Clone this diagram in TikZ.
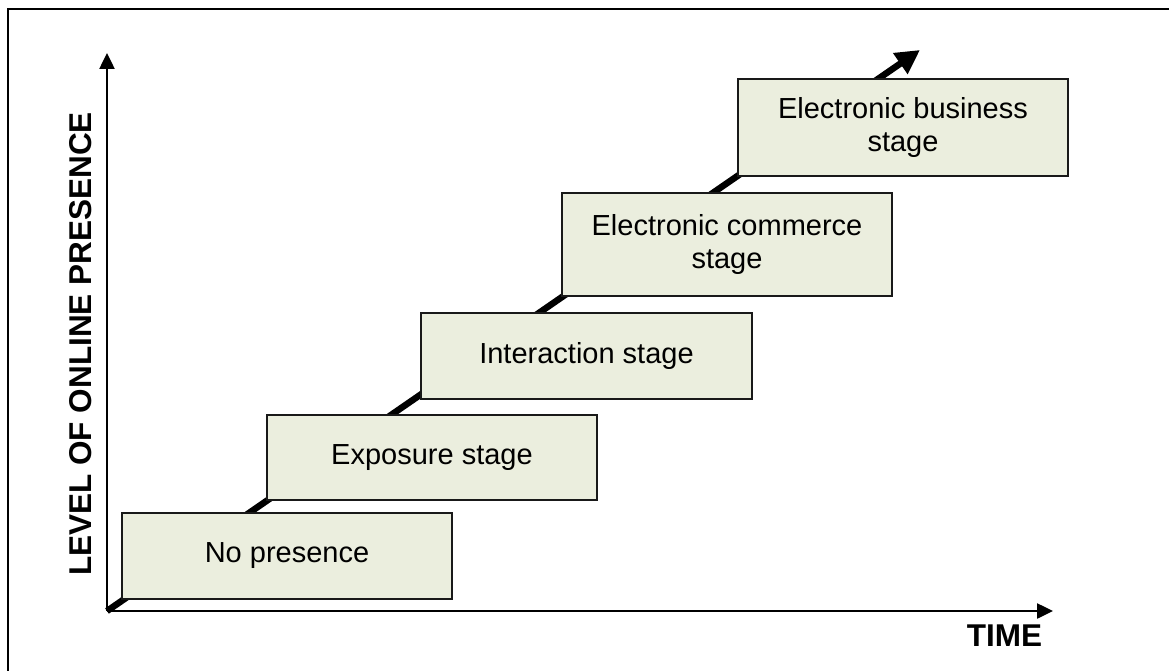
\documentclass[tikz,border=0pt]{standalone}
\usepackage{fontspec}
\setmainfont{Liberation Sans}
\usetikzlibrary{arrows.meta}
\definecolor{stagefill}{RGB}{235,238,222}
\definecolor{stageline}{RGB}{25,25,25}
\tikzset{
  stagebox/.style={draw=stageline, fill=stagefill, line width=2pt, inner sep=0pt,
    align=center, font=\fontsize{29}{33}\selectfont},
  axisline/.style={line width=2.5pt, -{Triangle[length=16pt,width=15pt]}},
  trendline/.style={line width=6.5pt, -{Triangle[length=24pt,width=24pt]}},
  axislabel/.style={font=\bfseries\fontsize{31.5}{36}\selectfont, inner sep=0pt}
}
\begin{document}
\begin{tikzpicture}[x=1pt, y=-1pt]
  \useasboundingbox (0,0) rectangle (1169,671);
  % frame
  \draw[line width=2.5pt] (8,671) -- (8,9) -- (1169,9);

  % axes
  \coordinate (o) at (107,611);
  \coordinate (ytop) at (107,53);
  \coordinate (xend) at (1053,611);
  \coordinate (trend) at (920,50);
  \draw[axisline] (o) -- (ytop);
  \draw[axisline] (o) -- (xend);

  % growth arrow behind the stages
  \draw[trendline] (o) -- (trend);

  % stages
  \node[stagebox, minimum width=330pt, minimum height=86pt] (none) at (287,556) {No presence};
  \node[stagebox, minimum width=330pt, minimum height=85pt] (expo) at (432,457.5) {Exposure stage};
  \node[stagebox, minimum width=331pt, minimum height=86pt] (inter) at (586.5,356) {Interaction stage};
  \node[stagebox, minimum width=330pt, minimum height=103pt] (ecom) at (727,244.5) {Electronic commerce\\stage};
  \node[stagebox, minimum width=330pt, minimum height=97pt] (ebus) at (903,127.5) {Electronic business\\stage};

  % axis labels
  \node[axislabel, rotate=90] (ylab) at (80.5,344) {LEVEL OF ONLINE PRESENCE};
  \node[axislabel] (xlab) at (1004.5,636) {TIME};
\end{tikzpicture}
\end{document}
